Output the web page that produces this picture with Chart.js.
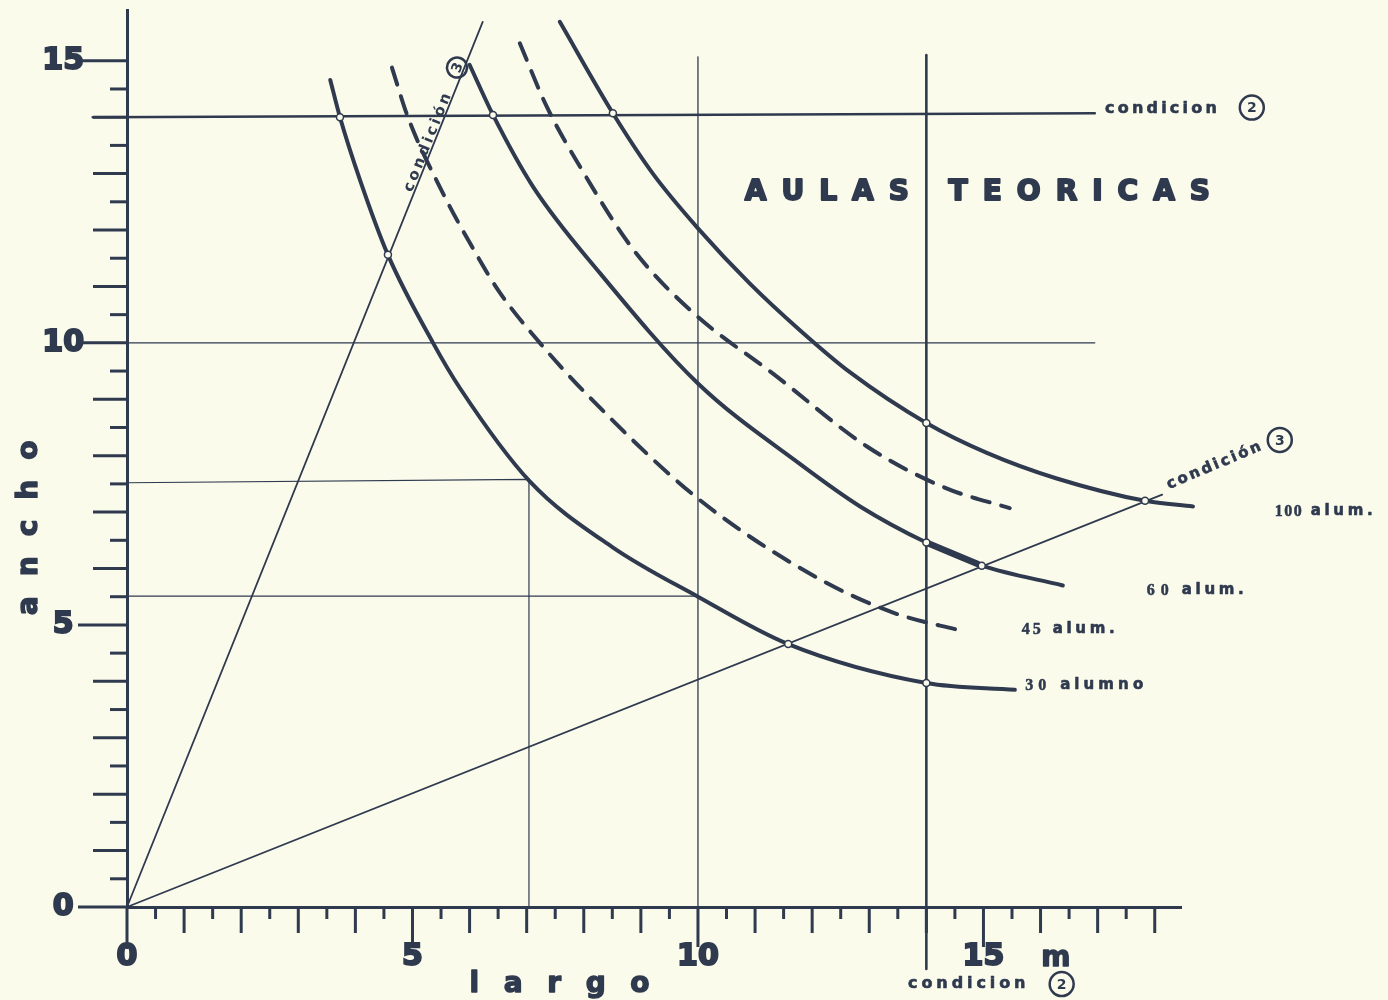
<!DOCTYPE html>
<html lang="es">
<head>
<meta charset="utf-8">
<title>Aulas teoricas</title>
<script src="https://cdn.jsdelivr.net/npm/chart.js@4.4.1/dist/chart.umd.min.js"></script>
<style>
  html, body { margin: 0; padding: 0; background: #fbfbec; }
  canvas { display: block; }
</style>
</head>
<body>
<canvas id="chart" width="1388" height="1000"></canvas>
<script>
'use strict';

//#region Data

// tick labels on the two axes (largo / ancho, metres)
const xTickValues = [0, 5, 10, 15];
const xTickLabels = ['0', '5', '10', '15'];
const yTickValues = [0, 5, 10, 15];
const yTickLabels = ['0', '5', '10', '15'];

// 30 alumnos (solid)
const curve30X = [3.56, 3.73, 4.08, 4.57, 5.36, 5.83, 7.05, 8.5, 10.0, 11.58, 14.0, 15.55];
const curve30Y = [14.66, 14.0, 12.89, 11.56, 10.0, 9.2, 7.55, 6.38, 5.5, 4.66, 3.97, 3.85];

// 45 alumnos (dashed)
const curve45X = [4.64, 4.92, 5.53, 6.13, 6.53, 7.23, 8.06, 10.0, 12.08, 13.44, 14.64];
const curve45Y = [14.88, 14.0, 12.66, 11.55, 10.89, 10.0, 9.08, 7.24, 5.84, 5.21, 4.89];

// 60 alumnos (solid) and its heavier piece between the two conditions
const curve60X = [6.0, 6.41, 7.11, 8.28, 10.0, 11.79, 12.84, 14.0, 14.97, 16.39];
const curve60Y = [14.93, 14.04, 12.77, 11.24, 9.28, 7.85, 7.1, 6.46, 6.05, 5.7];
const heavy60X = [14.05, 14.9];
const heavy60Y = [6.44, 6.08];

// unlabelled dashed curve between 60 and 100
const curve80X = [6.88, 7.35, 7.93, 8.87, 9.92, 11.32, 12.98, 14.33, 15.46];
const curve80Y = [15.31, 14.19, 13.13, 11.65, 10.53, 9.45, 8.15, 7.43, 7.07];

// 100 alumnos (solid)
const curve100X = [7.58, 8.51, 9.21, 10.0, 10.91, 11.79, 12.66, 14.0, 15.06, 16.27, 17.83, 18.67];
const curve100Y = [15.69, 14.07, 13.0, 12.03, 11.05, 10.22, 9.48, 8.58, 8.05, 7.6, 7.2, 7.1];

// condition lines
const cond1X = [0, 6.23];
const cond1Y = [0, 15.69];
const cond3X = [0, 18.13];
const cond3Y = [0, 7.31];
const cond2HX = [-0.6, 16.95];
const cond2HY = [14.0, 14.07];
const cond2VX = [14, 14];
const cond2VY = [-1.1, 15.1];

// thin guide lines
const guide10HX = [0, 16.95];
const guide10HY = [10, 10];
const guide10VX = [10, 10];
const guide10VY = [0, 15.07];
const cornerX = [0, 7.04, 7.04];
const cornerY = [7.52, 7.58, 0];
const guide55X = [0, 10];
const guide55Y = [5.51, 5.51];

// small open circles at the crossings
const markerX = [3.73, 4.57, 6.41, 8.51, 11.58, 14.0, 14.0, 14.0, 14.97, 17.83];
const markerY = [14.0, 11.56, 14.04, 14.07, 4.66, 3.97, 6.46, 8.58, 6.05, 7.2];

//#endregion

//#region Styles

const INK = '#2f3a4f';
const PAPER = '#fbfbec';
const SANS = '"DejaVu Sans", sans-serif';
const SERIF = '"Liberation Serif", serif';

//#endregion

//#region Helpers

function toPoints(xs, ys) {
  return xs.map((x, i) => ({ x: x, y: ys[i] }));
}

function lineSet(xs, ys, width, dash, smooth) {
  return {
    data: toPoints(xs, ys),
    showLine: true,
    borderColor: INK,
    borderWidth: width,
    borderDash: dash || [],
    borderCapStyle: 'round',
    pointRadius: 0,
    tension: 0,
    cubicInterpolationMode: smooth ? 'monotone' : 'default',
    clip: false,
    order: 1
  };
}

// letter-spaced text, optionally thickened with a stroke
function drawSpaced(ctx, text, x, y, spacing, align, heavy) {
  const chars = [...text];
  const widths = chars.map(ch => ctx.measureText(ch).width);
  const total = widths.reduce((a, b) => a + b, 0) + spacing * (chars.length - 1);
  let cx = align === 'center' ? x - total / 2 : x;
  ctx.textAlign = 'left';
  chars.forEach((ch, i) => {
    ctx.fillText(ch, cx, y);
    if (heavy) {
      ctx.lineWidth = heavy;
      ctx.lineJoin = 'round';
      ctx.strokeText(ch, cx, y);
    }
    cx += widths[i] + spacing;
  });
  return total;
}

function circled(ctx, cx, cy, r, digit, rot) {
  ctx.save();
  ctx.translate(cx, cy);
  ctx.rotate(rot || 0);
  ctx.beginPath();
  ctx.arc(0, 0, r, 0, Math.PI * 2);
  ctx.lineWidth = 2.5;
  ctx.strokeStyle = INK;
  ctx.stroke();
  ctx.font = 'bold 14px ' + SANS;
  ctx.textAlign = 'center';
  ctx.textBaseline = 'middle';
  ctx.fillText(digit, 0, 1);
  ctx.restore();
}

function segment(ctx, x1, y1, x2, y2) {
  ctx.beginPath();
  ctx.moveTo(x1, y1);
  ctx.lineTo(x2, y2);
  ctx.stroke();
}

//#endregion

//#region Paper plugin

const paperPlugin = {
  id: 'paper',
  beforeDraw(chart) {
    const ctx = chart.ctx;
    ctx.save();
    ctx.fillStyle = PAPER;
    ctx.fillRect(0, 0, chart.width, chart.height);
    ctx.restore();
  },
  afterDraw(chart) {
    const ctx = chart.ctx;
    const xs = chart.scales.x;
    const ys = chart.scales.y;
    const px = (xv, yv) => [xs.getPixelForValue(xv), ys.getPixelForValue(yv)];
    const x0 = xs.getPixelForValue(0);
    const y0 = ys.getPixelForValue(0);

    ctx.save();
    ctx.strokeStyle = INK;
    ctx.fillStyle = INK;
    ctx.lineCap = 'butt';
    ctx.lineWidth = 3;

    // tick marks: halves short, units longer, fives longest
    for (let i = 1; i <= 36; i++) {
      const p = xs.getPixelForValue(i / 2);
      let len = i % 2 === 0 ? 26 : 12;
      if (i % 10 === 0) len = 40;
      segment(ctx, p, y0, p, y0 + len);
    }
    for (let i = 1; i <= 30; i++) {
      const p = ys.getPixelForValue(i / 2);
      let len = i % 2 === 0 ? 34 : 17;
      if (i % 10 === 0) len = 49;
      segment(ctx, x0, p, x0 - len, p);
    }
    segment(ctx, x0, y0, x0, y0 + 42);
    segment(ctx, x0, y0, x0 - 49, y0);

    // unit after the last x label
    ctx.font = 'bold 28px ' + SANS;
    ctx.textBaseline = 'alphabetic';
    let p = px(16.27, -1.05);
    drawSpaced(ctx, 'm', p[0], p[1], 0, 'center', 1.4);

    // axis titles
    ctx.font = 'bold 28px ' + SANS;
    p = px(6.0, -1.51);
    drawSpaced(ctx, 'largo', p[0], p[1], 24.6, 'left', 1.4);
    p = px(-1.576, 6.72);
    ctx.save();
    ctx.translate(p[0], p[1]);
    ctx.rotate(-Math.PI / 2);
    drawSpaced(ctx, 'ancho', 0, 0, 20, 'center', 1.4);
    ctx.restore();

    // title
    ctx.font = 'bold 28px ' + SANS;
    p = px(10.82, 12.54);
    drawSpaced(ctx, 'AULAS TEORICAS', p[0], p[1], 15, 'left', 2);

    // condition 2 labels
    ctx.font = 'bold 16px ' + SANS;
    ctx.textBaseline = 'middle';
    p = px(17.13, 14.15);
    drawSpaced(ctx, 'condicion', p[0], p[1], 3.2, 'left', 0.6);
    p = px(19.7, 14.17);
    circled(ctx, p[0], p[1], 12, '2');
    ctx.font = 'bold 16px ' + SANS;
    ctx.textBaseline = 'middle';
    p = px(13.68, -1.365);
    drawSpaced(ctx, 'condicion', p[0], p[1], 3.9, 'left', 0.6);
    p = px(16.37, -1.365);
    circled(ctx, p[0], p[1], 12, '2');

    // condition 3 label along its line
    const c0 = px(cond3X[0], cond3Y[0]);
    const c1 = px(cond3X[1], cond3Y[1]);
    const ang3 = Math.atan2(c1[1] - c0[1], c1[0] - c0[0]) - 0.02;
    p = px(18.27, 7.36);
    ctx.save();
    ctx.translate(p[0], p[1]);
    ctx.rotate(ang3);
    ctx.font = 'bold 15px ' + SANS;
    ctx.textBaseline = 'alphabetic';
    drawSpaced(ctx, 'condición', 0, -3, 2.5, 'left', 0.6);
    ctx.restore();
    p = px(20.19, 8.28);
    circled(ctx, p[0], p[1], 12, '3');

    // condition label along the steep line
    const d1 = px(cond1X[1], cond1Y[1]);
    const ang1 = Math.atan2(d1[1] - c0[1], d1[0] - c0[0]);
    p = px(cond1X[1] * 0.806, cond1Y[1] * 0.806);
    ctx.save();
    ctx.translate(p[0], p[1]);
    ctx.rotate(ang1);
    ctx.font = 'bold 15px ' + SANS;
    ctx.textBaseline = 'alphabetic';
    drawSpaced(ctx, 'condición', 0, -2, 3, 'left');
    ctx.restore();
    p = px(5.78, 14.88);
    circled(ctx, p[0], p[1], 10, '3', ang1);

    // curve labels
    const alum = [
      ['100', 'alum.', 20.1, 7.02, 1.5, 9],
      ['60', 'alum.', 17.86, 5.62, 6, 13],
      ['45', 'alum.', 15.67, 4.93, 3, 12],
      ['30', 'alumno', 15.73, 3.94, 5, 14]
    ];
    ctx.textBaseline = 'middle';
    alum.forEach(([num, word, lx, ly, numSpace, gap]) => {
      const q = px(lx, ly);
      ctx.font = 'bold 16px ' + SERIF;
      const w = drawSpaced(ctx, num, q[0], q[1] + 1, numSpace, 'left', 0.5);
      ctx.font = 'bold 15px ' + SANS;
      drawSpaced(ctx, word, q[0] + w + gap, q[1], word.length > 5 ? 4.1 : 3.7, 'left', 0.6);
    });

    ctx.restore();
  }
};

//#endregion

//#region Chart

const datasets = [
  {
    data: toPoints(markerX, markerY),
    showLine: false,
    pointRadius: 3.5,
    pointBackgroundColor: PAPER,
    pointBorderColor: INK,
    pointBorderWidth: 1.5,
    clip: false,
    order: 0
  },
  lineSet(curve30X, curve30Y, 4, null, true),
  lineSet(curve45X, curve45Y, 4, [18, 12], true),
  lineSet(curve60X, curve60Y, 4, null, true),
  lineSet(heavy60X, heavy60Y, 6.5, null, false),
  lineSet(curve80X, curve80Y, 4, [18, 12], true),
  lineSet(curve100X, curve100Y, 4, null, true),
  lineSet(cond1X, cond1Y, 1.8, null, false),
  lineSet(cond3X, cond3Y, 1.8, null, false),
  lineSet(cond2HX, cond2HY, 2.6, null, false),
  lineSet(cond2VX, cond2VY, 2.6, null, false),
  lineSet(guide10HX, guide10HY, 1.3, null, false),
  lineSet(guide10VX, guide10VY, 1.3, null, false),
  lineSet(cornerX, cornerY, 1.2, null, false),
  lineSet(guide55X, guide55Y, 1.2, null, false)
];

const tickFont = { family: SANS, weight: 'bold', size: 30 };

// fixed axis boxes so the plot area lands where the drawing has it
function fixX(s) {
  s.height = 93;
  s.paddingLeft = 0;
  s.paddingRight = 0;
}

function fixY(s) {
  s.width = 127;
  s.paddingTop = 0;
  s.paddingBottom = 0;
}

const chartObj = {
  type: 'scatter',
  data: { datasets: datasets },
  options: {
    responsive: false,
    animation: false,
    layout: { padding: { top: 10, right: 207, left: 0, bottom: 0 } },
    plugins: {
      legend: { display: false },
      tooltip: { enabled: false }
    },
    scales: {
      x: {
        type: 'linear',
        min: 0,
        max: 18.46,
        grid: { display: false, drawTicks: false },
        border: { display: true, color: INK, width: 3 },
        ticks: {
          color: INK,
          font: tickFont,
          textStrokeColor: INK,
          textStrokeWidth: 2,
          padding: 32,
          autoSkip: false,
          maxRotation: 0,
          callback: v => {
            const i = xTickValues.indexOf(v);
            return i < 0 ? '' : xTickLabels[i];
          }
        },
        afterBuildTicks: s => { s.ticks = xTickValues.map(v => ({ value: v })); },
        afterFit: fixX
      },
      y: {
        type: 'linear',
        min: 0,
        max: 15.9,
        grid: { display: false, drawTicks: false },
        border: { display: true, color: INK, width: 3 },
        ticks: {
          color: INK,
          font: tickFont,
          textStrokeColor: INK,
          textStrokeWidth: 2,
          padding: 43,
          crossAlign: 'center',
          autoSkip: false,
          callback: v => {
            const i = yTickValues.indexOf(v);
            return i < 0 ? '' : yTickLabels[i];
          }
        },
        afterBuildTicks: s => { s.ticks = yTickValues.map(v => ({ value: v })); },
        afterFit: fixY
      }
    }
  },
  plugins: [paperPlugin]
};

const chartElem = document.getElementById('chart');
const chart = new Chart(chartElem.getContext('2d'), chartObj); //eslint-disable-line

//#endregion
</script>
</body>
</html>
